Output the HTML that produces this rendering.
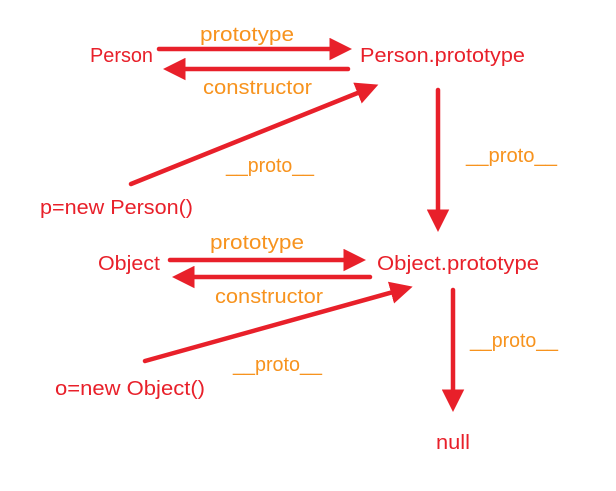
<!DOCTYPE html>
<html><head><style>body{margin:0;background:#fff}svg{display:block}</style></head><body>
<svg width="616" height="491" viewBox="0 0 616 491" xmlns="http://www.w3.org/2000/svg">
<defs><marker id="a" markerWidth="5" markerHeight="5" refX="3" refY="2.5" orient="auto" markerUnits="strokeWidth"><path d="M0,0 L5,2.5 L0,5 Z" fill="#e8202a"/></marker></defs>
<g font-family="Liberation Sans, sans-serif" font-size="20">
<g fill="#e8202a">
<text x="90" y="62" textLength="63" lengthAdjust="spacingAndGlyphs">Person</text>
<text x="360" y="62" textLength="165" lengthAdjust="spacingAndGlyphs">Person.prototype</text>
<text x="40" y="214" textLength="153" lengthAdjust="spacingAndGlyphs">p=new Person()</text>
<text x="98" y="270" textLength="62" lengthAdjust="spacingAndGlyphs">Object</text>
<text x="377" y="270" textLength="162" lengthAdjust="spacingAndGlyphs">Object.prototype</text>
<text x="55" y="395" textLength="150" lengthAdjust="spacingAndGlyphs">o=new Object()</text>
<text x="436" y="449" textLength="34" lengthAdjust="spacingAndGlyphs">null</text>
</g>
<g fill="#f7931e">
<text x="200" y="41" textLength="94" lengthAdjust="spacingAndGlyphs">prototype</text>
<text x="203" y="94" textLength="109" lengthAdjust="spacingAndGlyphs">constructor</text>
<text x="226" y="172" textLength="88" lengthAdjust="spacingAndGlyphs">__proto__</text>
<text x="466" y="162" textLength="91" lengthAdjust="spacingAndGlyphs">__proto__</text>
<text x="210" y="249" textLength="94" lengthAdjust="spacingAndGlyphs">prototype</text>
<text x="215" y="303" textLength="108" lengthAdjust="spacingAndGlyphs">constructor</text>
<text x="233" y="371" textLength="89" lengthAdjust="spacingAndGlyphs">__proto__</text>
<text x="470" y="347" textLength="88" lengthAdjust="spacingAndGlyphs">__proto__</text>
</g>
</g>
<g stroke="#e8202a" stroke-width="4.5" stroke-linecap="round" fill="none" marker-end="url(#a)">
<line x1="159" y1="49" x2="343" y2="49"/>
<line x1="348" y1="69" x2="172" y2="69"/>
<line x1="131" y1="184" x2="370" y2="88"/>
<line x1="438" y1="90" x2="438" y2="223"/>
<line x1="170" y1="260" x2="357" y2="260"/>
<line x1="370" y1="277" x2="181" y2="277"/>
<line x1="145" y1="361" x2="404" y2="289"/>
<line x1="453" y1="290" x2="453" y2="403"/>
</g>
</svg>
</body></html>
